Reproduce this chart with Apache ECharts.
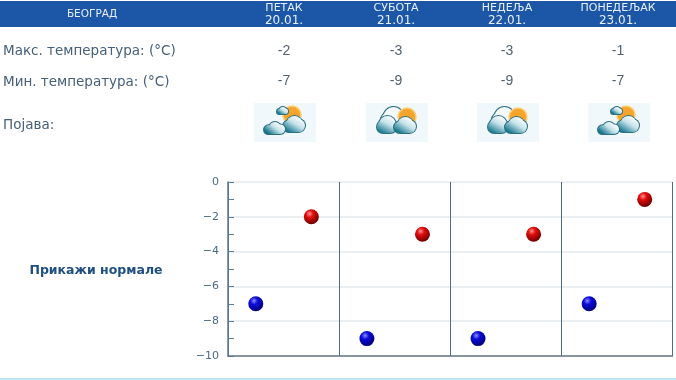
<!DOCTYPE html>
<html>
<head>
<meta charset="utf-8">
<style>
  html, body { margin: 0; padding: 0; background: #fff; }
  #chart { width: 676px; height: 380px; }
</style>
</head>
<body>
<div id="chart"></div>
<script src="https://cdn.jsdelivr.net/npm/echarts@6/dist/echarts.min.js"></script>
<script>
var city = "БЕОГРАД";
var days = ["ПЕТАК", "СУБОТА", "НЕДЕЉА", "ПОНЕДЕЉАК"];
var dates = ["20.01.", "21.01.", "22.01.", "23.01."];
var maxTemps = [-2, -3, -3, -1];
var minTemps = [-7, -9, -9, -7];
var icons = ["a", "b", "b", "a"];

var dayCenters = [284, 396, 507, 618];
var font = "'DejaVu Sans', sans-serif";

function text(x, y, str, size, color, align, weight, family) {
  return {
    type: "text", x: x, y: y, silent: true,
    style: {
      text: str, fontSize: size, fill: color, align: align || "center",
      verticalAlign: "middle", fontWeight: weight || "normal", fontFamily: family || font
    }
  };
}

function ball(c1, c2, c3) {
  return new echarts.graphic.RadialGradient(0.38, 0.3, 0.7, [
    { offset: 0, color: c1 },
    { offset: 0.35, color: c2 },
    { offset: 1, color: c3 }
  ]);
}

// cloud made of circles on a flat base: dark outline pass, then gradient pass
function cloud(x, y, w, h, plain) {
  var b = y + h;
  var r1 = h * 0.36, r2 = h * 0.5, r3 = h * 0.4;
  var parts = [
    [x + r1, b - r1, r1],
    [x + w * 0.52, y + r2, r2],
    [x + w - r3, b - r3, r3]
  ];
  var fill = plain ? "#f4fafc" : new echarts.graphic.LinearGradient(x + w * 0.7, y, x + w * 0.25, b, [
    { offset: 0, color: "#ffffff" },
    { offset: 0.45, color: "#c4e2ea" },
    { offset: 1, color: "#15758c" }
  ], true);
  var els = [];
  parts.forEach(function (p) {
    els.push({ type: "circle", silent: true, shape: { cx: p[0], cy: p[1], r: p[2] + 1 }, style: { fill: "#2c6f80" } });
  });
  els.push({ type: "rect", silent: true, shape: { x: x + r1, y: b - r1, width: w - r1 - r3, height: r1 + 1 }, style: { fill: "#2c6f80" } });
  parts.forEach(function (p) {
    els.push({ type: "circle", silent: true, shape: { cx: p[0], cy: p[1], r: p[2] }, style: { fill: fill } });
  });
  els.push({ type: "rect", silent: true, shape: { x: x + r1, y: b - r1, width: w - r1 - r3, height: r1 }, style: { fill: fill } });
  return els;
}

function sun(x, y) {
  return {
    type: "circle", silent: true,
    shape: { cx: x, cy: y, r: 9 },
    style: { fill: "#f5a52c", stroke: "#fbd07c", lineWidth: 1.5 }
  };
}

function icon(left, kind) {
  var els = [{
    type: "rect", silent: true,
    shape: { x: left, y: 103, width: 62, height: 39 },
    style: { fill: "#f1f8fb" }
  }];
  if (kind === "a") {
    els.push(sun(left + 38, 115));
    els = els.concat(cloud(left + 23, 107, 11, 7));
    els = els.concat(cloud(left + 29, 116, 22, 16));
    els = els.concat(cloud(left + 10, 122, 21, 12));
  } else {
    els = els.concat(cloud(left + 15, 107, 24, 20, true));
    els.push(sun(left + 41, 117));
    els = els.concat(cloud(left + 11, 116, 20, 17));
    els = els.concat(cloud(left + 28, 117, 22, 16));
  }
  return els;
}

var graphics = [
  { type: "rect", silent: true, shape: { x: 0, y: 1, width: 676, height: 26 }, style: { fill: "#1b57a6" } },
  { type: "rect", silent: true, shape: { x: 0, y: 378, width: 676, height: 2 }, style: { fill: "#bfe6f2" } },
  text(92, 14.5, city, 10.5, "#e8eff7"),
  text(3, 51.5, "Макс. температура: (°C)", 13.5, "#46607a", "left"),
  text(3, 82, "Мин. температура: (°C)", 13.5, "#46607a", "left"),
  text(3, 125.5, "Појава:", 13.5, "#46607a", "left"),
  text(96, 270.5, "Прикажи нормале", 12.5, "#1f4f80", "center", "bold")
];
days.forEach(function (d, i) {
  var x = dayCenters[i];
  graphics.push(text(x, 8, d, 11, "#e8eff7"));
  graphics.push(text(x, 21, dates[i], 12, "#e8eff7"));
  graphics.push(text(x, 51, String(maxTemps[i]), 14, "#52626f", "center", "normal", "'Liberation Sans', sans-serif"));
  graphics.push(text(x, 81.5, String(minTemps[i]), 14, "#52626f", "center", "normal", "'Liberation Sans', sans-serif"));
  graphics = graphics.concat(icon(x - 30, icons[i]));
});

function slotData(values, offset) {
  return values.map(function (v, i) { return [i + offset, v]; });
}

var chart = echarts.init(document.getElementById("chart"), null, { renderer: "canvas" });
chart.setOption({
  animation: false,
  backgroundColor: "#fff",
  graphic: { elements: graphics },
  grid: { left: 228, right: 3.5, top: 182, height: 174 },
  xAxis: {
    type: "value", min: 0, max: 4, interval: 1,
    axisLine: { show: true, onZero: false, lineStyle: { color: "#64778a", width: 1.5 } },
    axisTick: { show: false },
    axisLabel: { show: false },
    splitLine: { show: true, lineStyle: { color: "#4d6b8e", width: 1 } }
  },
  yAxis: {
    type: "value", min: -10, max: 0, interval: 2,
    axisLine: { show: true, onZero: false, lineStyle: { color: "#5c7a96", width: 1.5 } },
    axisTick: { show: true, inside: true, length: 6, lineStyle: { color: "#5c7a96" } },
    minorTick: { show: true, splitNumber: 2, length: 6, lineStyle: { color: "#5c7a96" } },
    axisLabel: {
      fontSize: 11, color: "#4a6a88", fontFamily: font, margin: 9,
      formatter: function (v) { return String(v).replace("-", "\u2212"); }
    },
    splitLine: { show: true, lineStyle: { color: "#e6eaec", width: 1.5 } }
  },
  series: [
    {
      name: "min", type: "scatter", symbolSize: 15, z: 5,
      itemStyle: { color: ball("#8c8cff", "#0c0cdc", "#00007a"), opacity: 1 },
      data: slotData(minTemps, 0.25)
    },
    {
      name: "max", type: "scatter", symbolSize: 15, z: 5,
      itemStyle: { color: ball("#ff9090", "#e00c0c", "#700000"), opacity: 1 },
      data: slotData(maxTemps, 0.75)
    }
  ]
});
</script>
</body>
</html>
